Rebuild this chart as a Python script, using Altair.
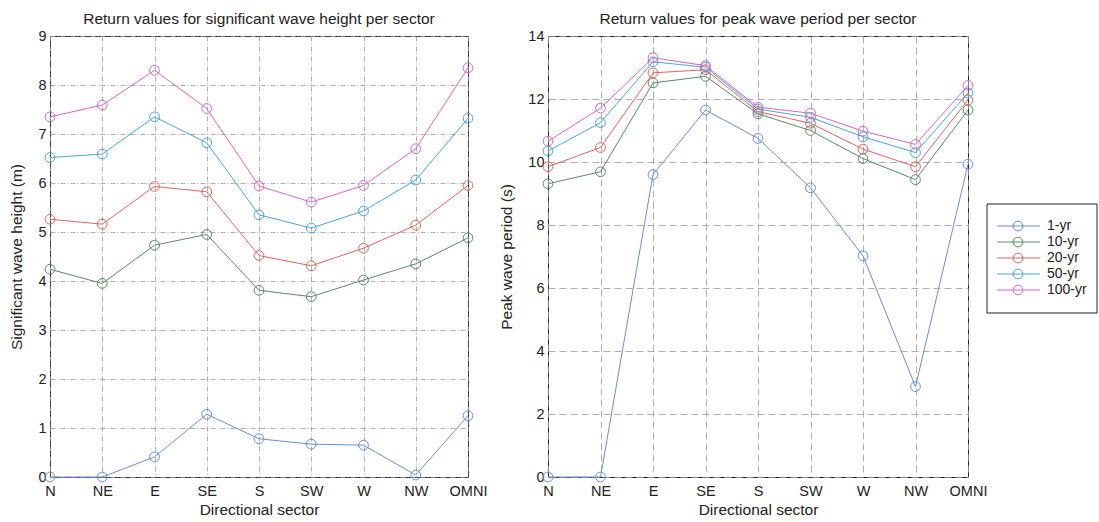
import altair as alt
import pandas as pd

sectors = ["N", "NE", "E", "SE", "S", "SW", "W", "NW", "OMNI"]
series = ["1-yr", "10-yr", "20-yr", "50-yr", "100-yr"]
colors = ["#6a8fd0", "#5a8a68", "#d8685e", "#4ea3d3", "#d468c4"]

hs_1 = [0.0, 0.0, 0.41, 1.28, 0.78, 0.67, 0.65, 0.04, 1.25]
hs_10 = [4.24, 3.95, 4.73, 4.95, 3.81, 3.68, 4.02, 4.35, 4.88]
hs_20 = [5.26, 5.16, 5.93, 5.82, 4.52, 4.31, 4.67, 5.14, 5.95]
hs_50 = [6.52, 6.59, 7.35, 6.82, 5.35, 5.08, 5.43, 6.06, 7.32]
hs_100 = [7.35, 7.59, 8.30, 7.52, 5.94, 5.61, 5.95, 6.70, 8.35]

tp_1 = [0.0, 0.0, 9.60, 11.65, 10.75, 9.18, 7.02, 2.87, 9.93]
tp_10 = [9.31, 9.69, 12.51, 12.72, 11.53, 11.00, 10.11, 9.44, 11.65]
tp_20 = [9.85, 10.46, 12.83, 12.93, 11.60, 11.23, 10.41, 9.85, 11.97]
tp_50 = [10.35, 11.25, 13.18, 13.01, 11.68, 11.42, 10.80, 10.30, 12.19]
tp_100 = [10.66, 11.71, 13.31, 13.06, 11.74, 11.55, 10.98, 10.56, 12.43]

hs_vals = [hs_1, hs_10, hs_20, hs_50, hs_100]
tp_vals = [tp_1, tp_10, tp_20, tp_50, tp_100]

def frame(vals):
    rows = []
    for s, v in zip(series, vals):
        for sec, y in zip(sectors, v):
            rows.append({"sector": sec, "series": s, "value": y})
    return pd.DataFrame(rows)

df_hs = frame(hs_vals)
df_tp = frame(tp_vals)

FONT = "Liberation Sans"
INK = "#222222"
color_enc = alt.Color("series:N", sort=series,
                      scale=alt.Scale(domain=series, range=colors), legend=None)


def panel(df, title, ytitle, ymax, ystep, dash, width):
    x = alt.X("sector:N", sort=sectors, scale=alt.Scale(type="point", padding=0),
              axis=alt.Axis(title="Directional sector", labelAngle=0, grid=True,
                            gridDash=dash, gridColor="#9a9a9a", gridWidth=0.8,
                            ticks=False, domain=False, labelPadding=7,
                            titlePadding=5))
    y = alt.Y("value:Q", scale=alt.Scale(domain=[0, ymax], nice=False, zero=True),
              axis=alt.Axis(title=ytitle, values=list(range(0, ymax + 1, ystep)),
                            grid=True, gridDash=dash, gridColor="#9a9a9a",
                            gridWidth=0.8, ticks=False, domain=False,
                            labelPadding=4, titlePadding=13))
    base = alt.Chart(df).encode(x=x, y=y, color=color_enc, detail="series:N")
    lines = base.mark_line(strokeWidth=1)
    pts = base.mark_point(shape="circle", size=95, filled=False, strokeWidth=1,
                          opacity=1)
    return (lines + pts).properties(
        width=width, height=441,
        title=alt.TitleParams(title, fontSize=15.5, font=FONT, fontWeight="normal",
                              offset=1, color=INK))


left = panel(df_hs, "Return values for significant wave height per sector",
             "Significant wave height (m)", 9, 1, [5, 2, 1, 2], 418)
right = panel(df_tp, "Return values for peak wave period per sector",
              "Peak wave period (s)", 14, 2, [7, 4], 420)

# legend panel (layout in pixels of the legend panel)
df_leg = pd.DataFrame({"series": series})
leg_y = alt.Y("series:N", sort=series,
              scale=alt.Scale(type="point", range=[182, 262]), axis=None)
leg_base = alt.Chart(df_leg).encode(y=leg_y)
leg_box = alt.Chart(pd.DataFrame({"box": [0]})).mark_rect(
    fill="white", stroke=INK, strokeWidth=1).encode(
    x=alt.value(0), x2=alt.value(110), y=alt.value(168), y2=alt.value(277))
leg_rule = leg_base.mark_rule(strokeWidth=1).encode(
    x=alt.value(10), x2=alt.value(53), color=color_enc)
leg_pt = leg_base.mark_point(shape="circle", size=95, filled=False,
                             strokeWidth=1, opacity=1).encode(
    x=alt.value(31), color=color_enc)
leg_txt = leg_base.mark_text(align="left", baseline="middle", fontSize=14,
                             font=FONT, color=INK).encode(
    x=alt.value(60), text="series:N")
legend = (leg_box + leg_rule + leg_pt + leg_txt).properties(
    width=110, height=441, view=alt.ViewBackground(stroke=None))

inner = alt.hconcat(right, legend, spacing=19, bounds="flush")
chart = alt.hconcat(left, inner, spacing=80, bounds="flush").resolve_scale(
    color="shared").properties(padding={"left": 9, "top": 11, "right": 0, "bottom": 0}
).configure_view(stroke=INK, strokeWidth=1).configure_axis(
    labelFont=FONT, titleFont=FONT, labelFontSize=14.5, titleFontSize=15.5,
    titleFontWeight="normal", labelColor=INK, titleColor=INK
)

chart.save("out.html", embed_options={"renderer": "svg", "actions": False})
